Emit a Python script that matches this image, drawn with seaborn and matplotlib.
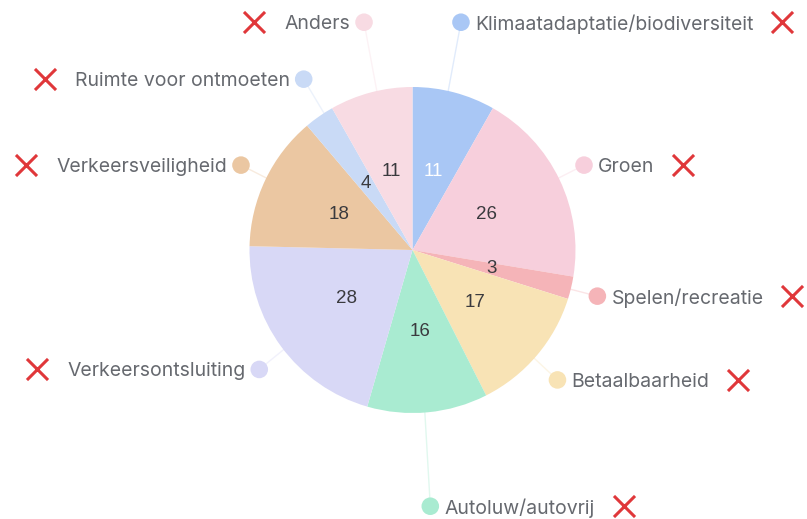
import numpy as np
import pandas as pd
import matplotlib
matplotlib.use("Agg")
import matplotlib.pyplot as plt
import seaborn as sns

# data (clockwise from 12 o'clock)
categories = ["Klimaatadaptatie/biodiversiteit", "Groen", "Spelen/recreatie", "Betaalbaarheid",
              "Autoluw/autovrij", "Verkeersontsluiting", "Verkeersveiligheid",
              "Ruimte voor ontmoeten", "Anders"]
values = [11, 26, 3, 17, 16, 28, 18, 4, 11]
colors = ["#a9c7f5", "#f7cfdc", "#f5b4b8", "#f8e3b5", "#a9ebd1",
          "#d8d8f6", "#ebc7a2", "#c9daf6", "#f8dbe3"]
value_colors = ["white", "#3a3a3e", "#3a3a3e", "#3a3a3e", "#3a3a3e",
                "#3a3a3e", "#3a3a3e", "#3a3a3e", "#3a3a3e"]
# vertical nudge of the outside labels (pixels), layout only
label_nudge = [-44, -3, 2, 7, 67, 7, -3, -15, -44]

sns.set_theme(style="white")
plt.rcParams['font.family'] = ['Inter', 'DejaVu Sans']

W, H = 807, 519
fig = plt.figure(figsize=(W / 100, H / 100), dpi=100)
ax = fig.add_axes([0, 0, 1, 1])

cx, cy, R = 412.5, 250, 163
# y axis is inverted below, so counterclock=True + startangle=-90 runs clockwise from the top
ax.pie(values, colors=colors, startangle=-90, counterclock=True,
       center=(cx, cy), radius=R, wedgeprops=dict(linewidth=0))
ax.set_xlim(0, W)
ax.set_ylim(H, 0)
ax.set_aspect("equal")
ax.axis("off")

total = sum(values)
cum = np.cumsum([0] + values[:-1])
mid = np.radians((cum + np.array(values) / 2) / total * 360)

inner = pd.DataFrame({
    "x": cx + 0.5 * R * np.sin(mid),
    "y": cy - 0.5 * R * np.cos(mid),
})
outer = pd.DataFrame({
    "x": cx + 1.166 * R * np.sin(mid),
    "y": cy - 1.166 * R * np.cos(mid) + np.array(label_nudge),
    "cat": categories,
})

# faint leader lines
for i in range(len(values)):
    ax.plot([inner.x[i], outer.x[i]], [inner.y[i], outer.y[i]],
            color=colors[i], lw=1, alpha=0.35, zorder=3)

# value labels inside the wedges
for i, v in enumerate(values):
    ax.text(inner.x[i], inner.y[i], str(v), ha="center", va="center",
            fontsize=13.5, color=value_colors[i], zorder=5,
            family=["Liberation Sans", "DejaVu Sans"])

# coloured dots at the end of each leader line
sns.scatterplot(data=outer, x="x", y="y", hue="cat", palette=colors,
                s=160, linewidth=0, legend=False, ax=ax, zorder=4)

texts = []
for i, cat in enumerate(categories):
    right = outer.x[i] > cx
    dx = 14 if right else -14
    t = ax.text(outer.x[i] + dx, outer.y[i], cat, ha="left" if right else "right",
                va="center_baseline", fontsize=14, color="#66696f", zorder=5)
    texts.append((t, right))

fig.canvas.draw()
renderer = fig.canvas.get_renderer()
xs, ys = [], []
for i, (t, right) in enumerate(texts):
    w = t.get_window_extent(renderer).width
    if right:
        xs.append(outer.x[i] + 14 + w + 29)
    else:
        xs.append(outer.x[i] - 14 - w - 30)
    ys.append(outer.y[i])

crosses = pd.DataFrame({"x": xs, "y": ys})
sns.scatterplot(data=crosses, x="x", y="y", marker="x", color="#e0373a",
                s=230, linewidth=2.2, legend=False, ax=ax, zorder=5)
ax.set_xlim(0, W)
ax.set_ylim(H, 0)
ax.axis("off")

fig.savefig("out.png", dpi=100)
